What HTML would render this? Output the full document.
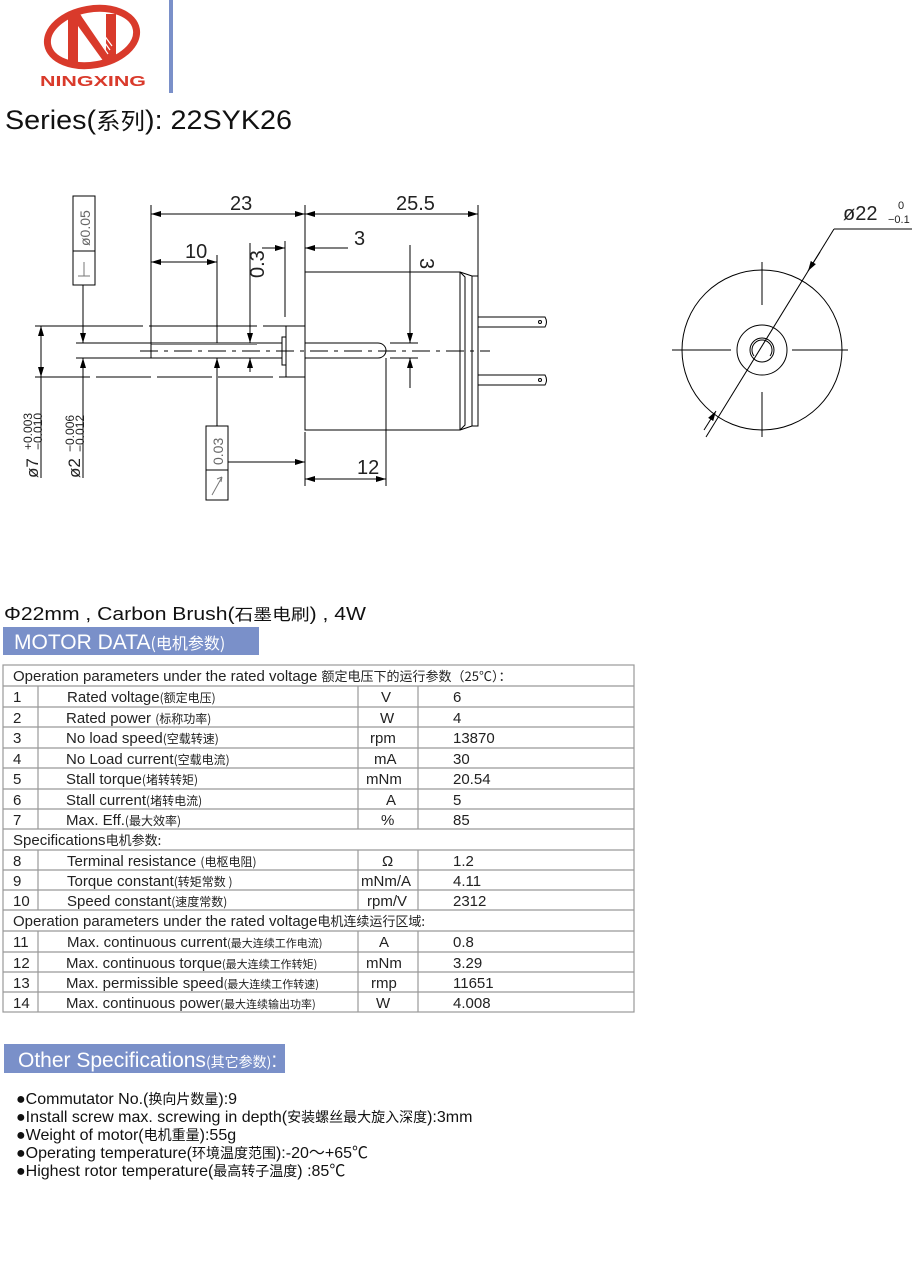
<!DOCTYPE html>
<html><head><meta charset="utf-8"><style>
html,body{margin:0;padding:0;background:#fff;}
svg{display:block}
text{font-family:"Liberation Sans","Noto Sans CJK SC",sans-serif;}
.cjk{font-family:"Noto Sans CJK SC",sans-serif;}
</style></head><body>
<svg width="920" height="1265" viewBox="0 0 920 1265" xmlns="http://www.w3.org/2000/svg">
<defs>
<marker id="a" viewBox="0 0 10 6" refX="10" refY="3" markerWidth="10" markerHeight="6" orient="auto-start-reverse" markerUnits="userSpaceOnUse"><path d="M0,0L10,3L0,6z" fill="#000"/></marker>
</defs>
<!-- logo -->
<ellipse cx="92" cy="37" rx="45" ry="28" fill="none" stroke="#d93a2b" stroke-width="7" transform="rotate(-10 92 37)"/>
<path d="M68,14 L80,14 L106,50 L106,14 L116,14 L116,62 L104,62 L78,26 L78,62 L68,62Z" fill="#d93a2b"/>
<path d="M82,16 L108,54 M86,16 L110,50 M90,16 L112,46" stroke="#fff" stroke-width="1.2"/>
<text x="40" y="86" font-size="15" font-weight="bold" fill="#d93a2b" textLength="106" lengthAdjust="spacingAndGlyphs">NINGXING</text>
<rect x="169" y="0" width="4" height="93" fill="#7a90c9"/>
<text x="5" y="129" font-size="27" fill="#111" textLength="287" lengthAdjust="spacingAndGlyphs">Series(<tspan class="cjk" font-size="23">系列</tspan>):  22SYK26</text>

<!-- side view drawing -->
<g stroke="#000" stroke-width="1" fill="none">
<path d="M305,272 H460 L465,277 V425 L460,430 H305 Z"/>
<path d="M460,272 L472,276 V426 L460,430"/>
<path d="M472,276 H478 V426 H472"/>
<line x1="460" y1="272" x2="460" y2="430"/>
<path d="M478,317 H545 Q548,322 545,327 H478"/>
<path d="M478,375 H545 Q548,380 545,385 H478"/>
<circle cx="540" cy="322" r="1.5"/><circle cx="540" cy="380" r="1.5"/>
<rect x="286" y="326" width="19" height="51"/>
<rect x="282" y="337" width="4" height="28"/>
<line x1="76" y1="343" x2="282" y2="343"/>
<line x1="76" y1="358" x2="282" y2="358"/>
<line x1="151" y1="343" x2="151" y2="358"/>
<line x1="151" y1="344" x2="257" y2="344" stroke="#888" stroke-width="2"/>
<path d="M305,343 H378 A8,7.5 0 0 1 378,358 H305"/>
<line x1="140" y1="351" x2="490" y2="351" stroke-dasharray="18,6,4,6"/>
<line x1="35" y1="326" x2="286" y2="326" stroke-dasharray="108,6"/>
<line x1="35" y1="377" x2="286" y2="377" stroke-dasharray="55,6"/>
<line x1="151" y1="205" x2="151" y2="358"/>
<line x1="305" y1="205" x2="305" y2="272"/>
<line x1="478" y1="205" x2="478" y2="276"/>
<line x1="151" y1="214" x2="305" y2="214" marker-start="url(#a)" marker-end="url(#a)"/>
<line x1="305" y1="214" x2="478" y2="214" marker-start="url(#a)" marker-end="url(#a)"/>
<line x1="217" y1="255" x2="217" y2="343"/>
<line x1="151" y1="262" x2="217" y2="262" marker-start="url(#a)" marker-end="url(#a)"/>
<line x1="250" y1="243" x2="250" y2="343" marker-end="url(#a)"/>
<line x1="250" y1="372" x2="250" y2="358" marker-end="url(#a)"/>
<line x1="285" y1="241" x2="285" y2="317"/>
<line x1="262" y1="248" x2="285" y2="248" marker-end="url(#a)"/>
<line x1="348" y1="248" x2="305" y2="248" marker-end="url(#a)"/>
<line x1="390" y1="343" x2="418" y2="343"/>
<line x1="390" y1="358" x2="418" y2="358"/>
<line x1="410" y1="245" x2="410" y2="343" marker-end="url(#a)"/>
<line x1="410" y1="388" x2="410" y2="358" marker-end="url(#a)"/>
<line x1="386" y1="358" x2="386" y2="486"/>
<line x1="305" y1="432" x2="305" y2="486"/>
<line x1="305" y1="479" x2="386" y2="479" marker-start="url(#a)" marker-end="url(#a)"/>
<line x1="41" y1="351" x2="41" y2="326" marker-end="url(#a)"/>
<line x1="41" y1="351" x2="41" y2="377" marker-end="url(#a)"/>
<line x1="41" y1="377" x2="41" y2="478"/>
<line x1="83" y1="285" x2="83" y2="343" marker-end="url(#a)"/>
<line x1="83" y1="478" x2="83" y2="358" marker-end="url(#a)"/>
<rect x="73" y="196" width="22" height="89"/>
<line x1="73" y1="251" x2="95" y2="251"/>
<path d="M78,276 H90 M84,276 V262" stroke="#777"/>
<rect x="206" y="426" width="22" height="74"/>
<line x1="206" y1="470" x2="228" y2="470"/>
<path d="M212,495 L222,477 M222,477 L217,479 M222,477 L221,482" stroke="#777"/>
<line x1="217" y1="426" x2="217" y2="358" marker-end="url(#a)"/>
<line x1="228" y1="462" x2="305" y2="462" marker-end="url(#a)"/>
</g>
<g font-size="20" fill="#222">
<text x="230" y="210">23</text>
<text x="396" y="210">25.5</text>
<text x="185" y="258">10</text>
<text x="354" y="245">3</text>
<text x="357" y="474">12</text>
<text transform="translate(264,278) rotate(-90)">0.3</text>
<text transform="translate(420,258) rotate(90)">3</text>
<text transform="translate(38,478) rotate(-90)" font-size="17">ø7</text>
<text transform="translate(32,450) rotate(-90)" font-size="12">+0.003</text>
<text transform="translate(42,450) rotate(-90)" font-size="12">−0.010</text>
<text transform="translate(80,478) rotate(-90)" font-size="17">ø2</text>
<text transform="translate(74,452) rotate(-90)" font-size="12">−0.006</text>
<text transform="translate(84,452) rotate(-90)" font-size="12">−0.012</text>
<text transform="translate(90,246) rotate(-90)" font-size="14" fill="#666">ø0.05</text>
<text transform="translate(223,465) rotate(-90)" font-size="14" fill="#666">0.03</text>
</g>

<!-- front view -->
<g stroke="#000" stroke-width="1" fill="none">
<circle cx="762" cy="350" r="80"/>
<circle cx="762" cy="350" r="25"/>
<circle cx="762" cy="350" r="12"/>
<path d="M754,356 A10,10 0 1 1 770,356" />
<line x1="672" y1="350" x2="731" y2="350"/><line x1="792" y1="350" x2="848" y2="350"/>
<line x1="762" y1="262" x2="762" y2="305"/><line x1="762" y1="392" x2="762" y2="437"/>
<line x1="706" y1="437" x2="834" y2="229"/>
<line x1="834" y1="229" x2="912" y2="229"/>
<line x1="820" y1="252" x2="808" y2="271" marker-end="url(#a)"/>
<line x1="704" y1="430" x2="716" y2="411" marker-end="url(#a)"/>
</g>
<text x="843" y="220" font-size="20" fill="#222">ø22</text>
<text x="898" y="209" font-size="11" fill="#222">0</text>
<text x="888" y="223" font-size="11" fill="#222">−0.1</text>

<!-- Subtitle -->
<text x="4" y="620" font-size="18" fill="#111" textLength="362" lengthAdjust="spacingAndGlyphs">Φ22mm ,  Carbon Brush(<tspan class="cjk" font-size="16">石墨电刷</tspan>) , 4W</text>
<rect x="3" y="627" width="256" height="28" fill="#7a90c9"/>
<text x="14" y="649" font-size="21" fill="#fff">MOTOR DATA<tspan class="cjk" font-size="16">(电机参数)</tspan></text>

<!-- table -->
<g stroke="#999" stroke-width="1.2" fill="none">
<rect x="3" y="665" width="631" height="347"/>
<path d="M3,686H634 M3,707H634 M3,727H634 M3,748H634 M3,768H634 M3,789H634 M3,809H634 M3,829H634 M3,850H634 M3,870H634 M3,890H634 M3,910H634 M3,931H634 M3,952H634 M3,972H634 M3,992H634"/>
<path d="M38,686V829 M358,686V829 M418,686V829 M38,850V910 M358,850V910 M418,850V910 M38,931V1012 M358,931V1012 M418,931V1012"/>
</g>
<g font-size="15" fill="#222">
<text x="13" y="681">Operation parameters under the rated voltage <tspan class="cjk" font-size="13">额定电压下的运行参数（25℃）：</tspan></text>
<text x="13" y="702">1</text><text x="67" y="702">Rated voltage<tspan class="cjk" font-size="12">(额定电压)</tspan></text><text x="381" y="702">V</text><text x="453" y="702">6</text>
<text x="13" y="723">2</text><text x="66" y="723">Rated power <tspan class="cjk" font-size="12">(标称功率)</tspan></text><text x="380" y="723">W</text><text x="453" y="723">4</text>
<text x="13" y="743">3</text><text x="66" y="743">No load speed<tspan class="cjk" font-size="12">(空载转速)</tspan></text><text x="370" y="743">rpm</text><text x="453" y="743">13870</text>
<text x="13" y="764">4</text><text x="66" y="764">No Load current<tspan class="cjk" font-size="12">(空载电流)</tspan></text><text x="374" y="764">mA</text><text x="453" y="764">30</text>
<text x="13" y="784">5</text><text x="66" y="784">Stall torque<tspan class="cjk" font-size="12">(堵转转矩)</tspan></text><text x="366" y="784">mNm</text><text x="453" y="784">20.54</text>
<text x="13" y="805">6</text><text x="66" y="805">Stall current<tspan class="cjk" font-size="12">(堵转电流)</tspan></text><text x="386" y="805">A</text><text x="453" y="805">5</text>
<text x="13" y="825">7</text><text x="66" y="825">Max. Eff.<tspan class="cjk" font-size="12">(最大效率)</tspan></text><text x="381" y="825">%</text><text x="453" y="825">85</text>
<text x="13" y="845">Specifications<tspan class="cjk" font-size="13">电机参数:</tspan></text>
<text x="13" y="866">8</text><text x="67" y="866">Terminal resistance <tspan class="cjk" font-size="12">(电枢电阻)</tspan></text><text x="382" y="866">Ω</text><text x="453" y="866">1.2</text>
<text x="13" y="886">9</text><text x="67" y="886">Torque constant<tspan class="cjk" font-size="12">(转矩常数 )</tspan></text><text x="361" y="886">mNm/A</text><text x="453" y="886">4.11</text>
<text x="13" y="906">10</text><text x="67" y="906">Speed constant<tspan class="cjk" font-size="12">(速度常数)</tspan></text><text x="367" y="906">rpm/V</text><text x="453" y="906">2312</text>
<text x="13" y="926">Operation parameters under the rated voltage<tspan class="cjk" font-size="13">电机连续运行区域:</tspan></text>
<text x="13" y="947">11</text><text x="67" y="947">Max. continuous current<tspan class="cjk" font-size="11">(最大连续工作电流)</tspan></text><text x="379" y="947">A</text><text x="453" y="947">0.8</text>
<text x="13" y="968">12</text><text x="66" y="968">Max. continuous torque<tspan class="cjk" font-size="11">(最大连续工作转矩)</tspan></text><text x="366" y="968">mNm</text><text x="453" y="968">3.29</text>
<text x="13" y="988">13</text><text x="66" y="988">Max. permissible speed<tspan class="cjk" font-size="11">(最大连续工作转速)</tspan></text><text x="371" y="988">rmp</text><text x="453" y="988">11651</text>
<text x="13" y="1008">14</text><text x="66" y="1008">Max. continuous power<tspan class="cjk" font-size="11">(最大连续输出功率)</tspan></text><text x="376" y="1008">W</text><text x="453" y="1008">4.008</text>
</g>

<!-- Other specs -->
<rect x="4" y="1044" width="281" height="29" fill="#7a90c9"/>
<text x="18" y="1067" font-size="21" fill="#fff">Other Specifications<tspan class="cjk" font-size="14">(其它参数)</tspan>:</text>
<g font-size="16" fill="#111">
<text x="16" y="1104">●Commutator No.(<tspan class="cjk" font-size="14">换向片数量</tspan>):9</text>
<text x="16" y="1122">●Install screw max. screwing in depth(<tspan class="cjk" font-size="14">安装螺丝最大旋入深度</tspan>):3mm</text>
<text x="16" y="1140">●Weight of motor(<tspan class="cjk" font-size="14">电机重量</tspan>):55g</text>
<text x="16" y="1158">●Operating temperature(<tspan class="cjk" font-size="14">环境温度范围</tspan>):-20～+65℃</text>
<text x="16" y="1176">●Highest rotor temperature(<tspan class="cjk" font-size="14">最高转子温度</tspan>) :85℃</text>
</g>
</svg>
</body></html>
